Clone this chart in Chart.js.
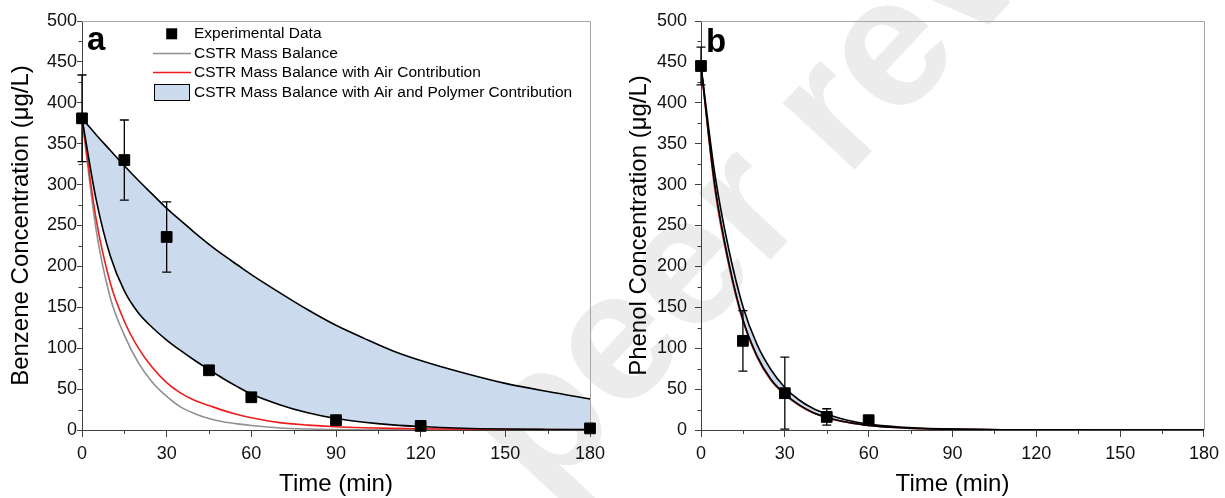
<!DOCTYPE html>
<html>
<head>
<meta charset="utf-8">
<script src="https://cdn.jsdelivr.net/npm/chart.js@4.4.1/dist/chart.umd.min.js"></script>
<style>
  html, body { margin: 0; padding: 0; background: #fff; }
  #wrap { position: relative; width: 1225px; height: 498px; overflow: hidden; }
  #wm {
    position: absolute; left: 430px; top: 396px;
    font-family: "Liberation Sans", Arial, sans-serif; font-weight: bold; font-size: 185px; line-height: 1;
    color: #ececec; white-space: nowrap;
    transform-origin: 0 0; transform: rotate(-47deg);
  }
  canvas { position: absolute; top: 0; }
</style>
</head>
<body>
<div id="wrap">
  <div id="wm">peer rev</div>
  <canvas id="chartA" width="612" height="498" style="left:0"></canvas>
  <canvas id="chartB" width="613" height="498" style="left:612px"></canvas>
</div>
<script>
// axis ticks
const timeTicks = [0, 30, 60, 90, 120, 150, 180];
const concTicks = [0, 50, 100, 150, 200, 250, 300, 350, 400, 450, 500];

// model curves are sampled at these times (min)
const modelTime = [0, 5, 10, 15, 20, 25, 30, 35, 40, 45, 50, 55, 60, 70, 80, 90, 100, 110, 120, 135, 150, 165, 180];

// (a) benzene
const benzeneTime = [0, 15, 30, 45, 60, 90, 120, 180];
const benzeneMeasured = [381, 330, 236, 73, 40, 12, 5, 2];
const benzeneError = [53, 49, 43, 0, 0, 0, 0, 0];
const benzeneCstr = [381, 245, 162, 116, 82, 58, 41, 28, 20, 14, 10, 7.5, 5.5, 2.5, 1.2, 0.6, 0.3, 0.15, 0.1, 0, 0, 0, 0];
const benzeneAir = [381, 258, 180, 133, 100, 76, 58, 45, 36, 30, 24, 19, 15, 9, 6, 4, 2.8, 2, 1.5, 1, 0.6, 0.4, 0.3];
const benzenePolyHigh = [381, 361, 342, 323, 305, 288, 271, 256, 241, 227, 214, 202, 190, 168, 147, 128, 112, 97, 85, 70, 57, 47, 38];
const benzenePolyLow = [381, 282, 213, 170, 143, 125, 110, 97, 85, 74, 63, 53, 44, 31, 21, 14, 9.5, 6.3, 4.2, 2.2, 1.2, 0.7, 0.4];

// (b) phenol
const phenolTime = [0, 15, 30, 45, 60];
const phenolMeasured = [445, 109, 45, 16, 12];
const phenolError = [23, 37, 44, 10, 4];
const phenolCstr = [445, 293, 200, 132.5, 89, 60.6, 43, 30.3, 21, 15.1, 10.7, 7.8, 5.5, 2.9, 1.45, 0.78, 0.4, 0.24, 0.14, 0.05, 0, 0, 0];
const phenolAir = [445, 295, 202, 134, 90, 61.4, 43.5, 30.7, 21.3, 15.3, 10.9, 7.9, 5.6, 3, 1.5, 0.8, 0.4, 0.25, 0.15, 0.05, 0, 0, 0];
const phenolPolyHigh = [445, 312, 220, 151, 105, 74, 52, 37, 26.5, 19.5, 14, 10, 7.3, 4, 2.1, 1.2, 0.6, 0.35, 0.2, 0.1, 0, 0, 0];
const phenolPolyLow = [445, 298, 204, 135, 91, 62, 44, 31, 21.5, 15.5, 11, 8, 5.7, 3, 1.5, 0.8, 0.4, 0.25, 0.15, 0.05, 0, 0, 0];

const legendLabels = [
  "Experimental Data",
  "CSTR Mass Balance",
  "CSTR Mass Balance with Air Contribution",
  "CSTR Mass Balance with Air and Polymer Contribution",
];

const FONT = '"Liberation Sans", Arial, Helvetica, sans-serif';
const BAND = "#cbdbed";
const AXIS = "#404040";

function pts(xs, ys) {
  return xs.map((x, i) => ({ x: x, y: ys[i] }));
}

// extra drawing: frame, minor ticks, error bars, panel letter, legend
const decorPlugin = {
  id: "decor",
  beforeDatasetsDraw(chart, args, o) {
    const ctx = chart.ctx, a = chart.chartArea;
    const xs = chart.scales.x, ys = chart.scales.y;
    ctx.save();
    ctx.lineWidth = 1;
    ctx.strokeStyle = "#a6a6a6";
    ctx.beginPath();
    ctx.moveTo(a.left, Math.round(a.top) + 0.5);
    ctx.lineTo(Math.round(a.right) + 0.5, Math.round(a.top) + 0.5);
    ctx.lineTo(Math.round(a.right) + 0.5, a.bottom);
    ctx.stroke();
    ctx.strokeStyle = AXIS;
    ctx.beginPath();
    for (let i = 0; i < concTicks.length - 1; i++) {
      const y = Math.round(ys.getPixelForValue((concTicks[i] + concTicks[i + 1]) / 2)) + 0.5;
      ctx.moveTo(a.left - 3.5, y);
      ctx.lineTo(a.left, y);
    }
    for (let i = 0; i < timeTicks.length - 1; i++) {
      const x = Math.round(xs.getPixelForValue((timeTicks[i] + timeTicks[i + 1]) / 2)) + 0.5;
      ctx.moveTo(x, a.bottom);
      ctx.lineTo(x, a.bottom + 4);
    }
    ctx.stroke();
    ctx.restore();
  },
  afterDatasetsDraw(chart, args, o) {
    const ctx = chart.ctx;
    const xs = chart.scales.x, ys = chart.scales.y;
    ctx.save();
    // error bars
    ctx.strokeStyle = "#000";
    ctx.lineWidth = 1.3;
    o.times.forEach((t, i) => {
      const e = o.errors[i];
      if (!e) return;
      const x = xs.getPixelForValue(t);
      const y1 = ys.getPixelForValue(o.values[i] + e);
      const y2 = ys.getPixelForValue(o.values[i] - e);
      ctx.beginPath();
      ctx.moveTo(x, y1); ctx.lineTo(x, y2);
      ctx.moveTo(x - 4.5, y1); ctx.lineTo(x + 4.5, y1);
      ctx.moveTo(x - 4.5, y2); ctx.lineTo(x + 4.5, y2);
      ctx.stroke();
    });
    // panel letter
    ctx.fillStyle = "#000";
    ctx.font = "bold 33px " + FONT;
    ctx.textBaseline = "alphabetic";
    ctx.textAlign = "left";
    ctx.fillText(o.letter, o.letterX, o.letterY);
    // legend (panel a only)
    if (o.legend) {
      ctx.font = "15.5px " + FONT;
      ctx.textBaseline = "middle";
      ctx.fillRect(166.2, 28.3, 11, 11);
      ctx.fillText(legendLabels[0], 194, 34);
      ctx.lineWidth = 1.6;
      ctx.strokeStyle = "#909090";
      ctx.beginPath(); ctx.moveTo(153, 53.5); ctx.lineTo(191, 53.5); ctx.stroke();
      ctx.fillText(legendLabels[1], 194, 53.5);
      ctx.strokeStyle = "#ee1c1c";
      ctx.beginPath(); ctx.moveTo(153, 72.5); ctx.lineTo(191, 72.5); ctx.stroke();
      ctx.fillText(legendLabels[2], 194, 72.5);
      ctx.fillStyle = BAND;
      ctx.fillRect(154.5, 84.5, 35, 16);
      ctx.strokeStyle = "#000";
      ctx.lineWidth = 1;
      ctx.strokeRect(154.5, 84.5, 35, 16);
      ctx.fillStyle = "#000";
      ctx.fillText(legendLabels[3], 194, 92.5);
    }
    ctx.restore();
  },
};

function makePanel(id, p) {
  const curve = (data, color, extra) => Object.assign({
    data: pts(modelTime, data),
    borderColor: color,
    borderWidth: 1.6,
    pointRadius: 0,
    fill: false,
    cubicInterpolationMode: "monotone",
  }, extra || {});

  return new Chart(document.getElementById(id), {
    type: "line",
    data: {
      datasets: [
        {
          label: legendLabels[0],
          data: pts(p.time, p.measured),
          showLine: false,
          pointStyle: "rect",
          pointRadius: 7.6,
          backgroundColor: "#000",
          borderColor: "#000",
          borderWidth: 1,
          clip: false,
        },
        curve(p.high, "#000", { label: legendLabels[3], fill: "+1", backgroundColor: BAND }),
        curve(p.low, "#000", { label: legendLabels[3] }),
        curve(p.air, "#ee1c1c", { label: legendLabels[2] }),
        curve(p.cstr, "#909090", { label: legendLabels[1] }),
      ],
    },
    options: {
      responsive: false,
      animation: false,
      events: [],
      layout: { padding: { top: 21, right: p.padRight, left: 0, bottom: 0 } },
      plugins: {
        legend: { display: false },
        tooltip: { enabled: false },
        filler: { drawTime: "beforeDatasetsDraw" },
        decor: {
          times: p.time, values: p.measured, errors: p.error,
          letter: p.letter, letterX: p.letterX, letterY: p.letterY,
          legend: p.legend,
        },
      },
      scales: {
        x: {
          type: "linear",
          min: timeTicks[0],
          max: timeTicks[timeTicks.length - 1],
          afterFit: (s) => { s.height = 68; },
          ticks: { stepSize: 30, color: "#111", font: { family: FONT, size: 18 }, padding: 6, maxRotation: 0, autoSkip: false },
          grid: { drawOnChartArea: false, tickLength: 7, color: AXIS },
          border: { color: AXIS },
          title: { display: true, text: "Time (min)", color: "#000", font: { family: FONT, size: 24, lineHeight: 1 }, padding: { top: 0, bottom: 1.5 } },
        },
        y: {
          type: "linear",
          min: concTicks[0],
          max: concTicks[concTicks.length - 1],
          afterFit: (s) => { s.width = p.yWidth; },
          ticks: { stepSize: 50, color: "#111", font: { family: FONT, size: 18 }, padding: p.yPad },
          grid: { drawOnChartArea: false, tickLength: p.yTick, color: AXIS },
          border: { color: AXIS },
          title: { display: true, text: p.yTitle, color: "#000", font: { family: FONT, size: 24, lineHeight: 1 }, padding: { top: p.yTitlePad, bottom: 0 } },
        },
      },
    },
    plugins: [decorPlugin],
  });
}

makePanel("chartA", {
  time: benzeneTime, measured: benzeneMeasured, error: benzeneError,
  high: benzenePolyHigh, low: benzenePolyLow, air: benzeneAir, cstr: benzeneCstr,
  yTitle: "Benzene Concentration (μg/L)",
  yWidth: 82, padRight: 22, yPad: 0, yTick: 5, yTitlePad: 9,
  letter: "a", letterX: 87, letterY: 50, legend: true,
});

makePanel("chartB", {
  time: phenolTime, measured: phenolMeasured, error: phenolError,
  high: phenolPolyHigh, low: phenolPolyLow, air: phenolAir, cstr: phenolCstr,
  yTitle: "Phenol Concentration (μg/L)",
  yWidth: 89, padRight: 17, yPad: 8, yTick: 6, yTitlePad: 15,
  letter: "b", letterX: 94, letterY: 52, legend: false,
});
</script>
</body>
</html>
